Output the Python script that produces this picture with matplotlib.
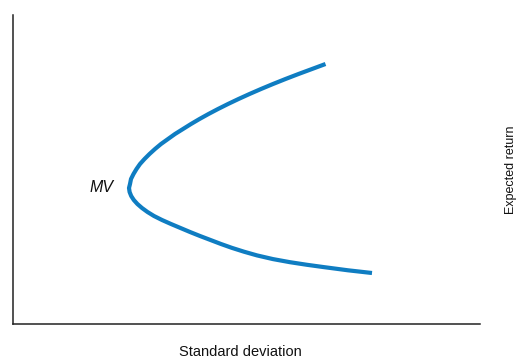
import matplotlib
matplotlib.use("Agg")
import matplotlib.pyplot as plt

# frontier (axes units = pixels from the axis corner),
# from the upper end, round the MV point, to the lower end
sd = [312.5, 299, 285.5, 272.5, 260, 248, 236.5, 225.5, 215, 205, 195.5, 186.5, 178, 170,
      162, 155, 148, 142, 136.5, 131.5, 127, 123.5, 120.5, 118, 117, 116,
      116.6, 118.2, 120.8, 124.4, 129, 134.5, 141, 149, 158, 167.5, 177, 187, 197.5,
      208, 219, 231, 244, 260, 277, 294, 310, 335, 359]
ret = [260, 255, 250, 245, 240, 235, 230, 225, 220, 215, 210, 205, 200, 195,
       190, 185, 180, 175, 170, 165, 160, 155, 150, 145, 140, 136,
       132, 128, 124, 120, 116, 112, 108, 104, 100, 96, 92, 88, 84,
       80, 76.1, 72.3, 68.6, 64.9, 61.8, 59.2, 57, 53.7, 51]

x_label = "Standard deviation"
y_label = "Expected return"
mv_label = "MV"

W, H = 518, 360
fig = plt.figure(figsize=(W / 100, H / 100), dpi=100)
ax = fig.add_axes([13 / W, (H - 324) / H, 467 / W, 309 / H])
ax.set_xlim(0, 467)
ax.set_ylim(0, 309)

ax.plot(sd, ret, color="#0f7dc2", lw=3.0, solid_joinstyle="round", solid_capstyle="butt")

ax.spines["top"].set_visible(False)
ax.spines["right"].set_visible(False)
for s in ("left", "bottom"):
    ax.spines[s].set_linewidth(1.1)
    ax.spines[s].set_color("#222222")
ax.set_xticks([])
ax.set_yticks([])

sans = ["Liberation Sans", "DejaVu Sans"]
fig.text(240 / W, 1 - 352 / H, x_label, ha="center", va="center",
         fontsize=10.5, family=sans, color="#111111")
fig.text(511 / W, 1 - 170 / H, y_label, ha="center", va="center", rotation=90,
         fontsize=9, family=sans, color="#111111")
fig.text(102 / W, 1 - 188 / H, mv_label, ha="center", va="center",
         fontsize=11.5, style="italic", family=sans, color="#111111")

fig.savefig("out.png", dpi=100)
